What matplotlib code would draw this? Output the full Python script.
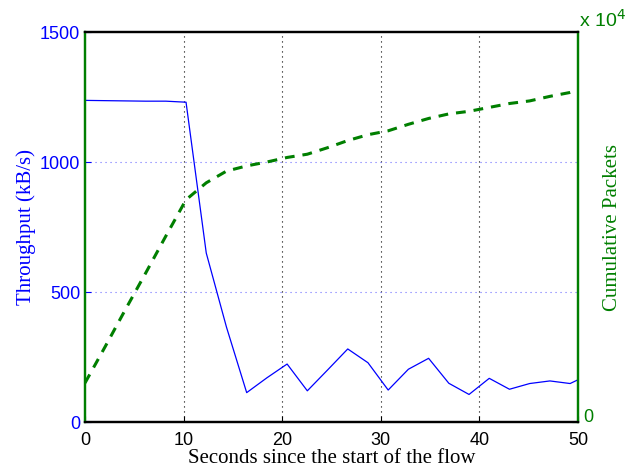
import numpy as np
import matplotlib
matplotlib.use("Agg")
import matplotlib.pyplot as plt

# sample times (s)
t = [0, 2.05, 4.1, 6.15, 8.2, 10.25, 12.3, 14.35, 16.4, 18.45, 20.5, 22.55, 24.6,
     26.65, 28.7, 30.75, 32.8, 34.85, 36.9, 38.95, 41.0, 43.05, 45.1, 47.15, 49.2, 51.25]
# throughput (kB/s)
throughput = [1237, 1236, 1235, 1234, 1234, 1230, 650, 365, 113, 170, 223, 120, 200,
              281, 228, 123, 203, 245, 149, 106, 168, 126, 148, 158, 148, 185]
# cumulative packets (x 10^4)
cum_packets = [0.60, 1.16, 1.73, 2.29, 2.86, 3.42, 3.68, 3.86, 3.94, 4.00, 4.07, 4.12, 4.22,
               4.33, 4.42, 4.48, 4.58, 4.67, 4.74, 4.78, 4.84, 4.90, 4.94, 5.01, 5.07, 5.16]

BLUE = "#0000ff"
GREEN = "#007f00"
SERIF = ["Liberation Serif", "DejaVu Serif"]
SANS = ["Liberation Sans", "DejaVu Sans"]

fig = plt.figure(figsize=(6.36, 4.70), dpi=100)
ax = fig.add_axes([0.1336, 0.1021, 0.7752, 0.8298])
ax2 = ax.twinx()

ax.plot(t, throughput, color=BLUE, lw=0.9)
ax2.plot(t, cum_packets, color=GREEN, lw=2.2, ls=(0, (3.2, 2.6)))

ax.set_xlim(0, 50)
ax.set_ylim(0, 1500)
ax2.set_ylim(0, 6)

ax.set_xticks([0, 10, 20, 30, 40, 50])
ax.set_yticks([0, 500, 1000, 1500])
ax2.set_yticks([0])

# grid: vertical black dotted, horizontal blue dotted
for x in [10, 20, 30, 40]:
    ax.axvline(x, color="black", lw=0.8, ls=(0, (1, 3.5)), zorder=0)
for y in [500, 1000]:
    ax.axhline(y, color="#6f6fff", lw=0.8, ls=(0, (1, 3.5)), zorder=0)

ax.tick_params(axis="x", direction="in", length=4, colors="black", labelsize=13, pad=7)
ax.tick_params(axis="y", direction="in", length=4, colors=BLUE, labelsize=13)
ax2.tick_params(axis="y", direction="in", length=4, colors=GREEN, labelsize=13, pad=4)
for lab in ax.get_xticklabels() + ax.get_yticklabels() + ax2.get_yticklabels():
    lab.set_family(SANS)
ax2.get_yticklabels()[0].set_verticalalignment("baseline")

for s in ["top", "bottom"]:
    ax2.spines[s].set_color("black")
    ax2.spines[s].set_linewidth(1.6)
    ax.spines[s].set_linewidth(1.6)
for s in ["left", "right"]:
    ax2.spines[s].set_color(GREEN)
    ax2.spines[s].set_linewidth(1.6)
    ax.spines[s].set_color(GREEN)
    ax.spines[s].set_linewidth(1.6)

ax.set_xlabel("Seconds since the start of the flow", family=SERIF, fontsize=15,
              labelpad=0)
ax.set_ylabel("Throughput (kB/s)", family=SERIF, fontsize=15, color=BLUE, labelpad=3)
ax2.set_ylabel("Cumulative Packets", family=SERIF, fontsize=15, color=GREEN, labelpad=7)

fig.text(0.911, 0.943, r"x 10$^4$", color=GREEN, fontsize=14, family=SANS,
         ha="left", va="baseline")

fig.savefig("out.png", dpi=100, facecolor="white")
